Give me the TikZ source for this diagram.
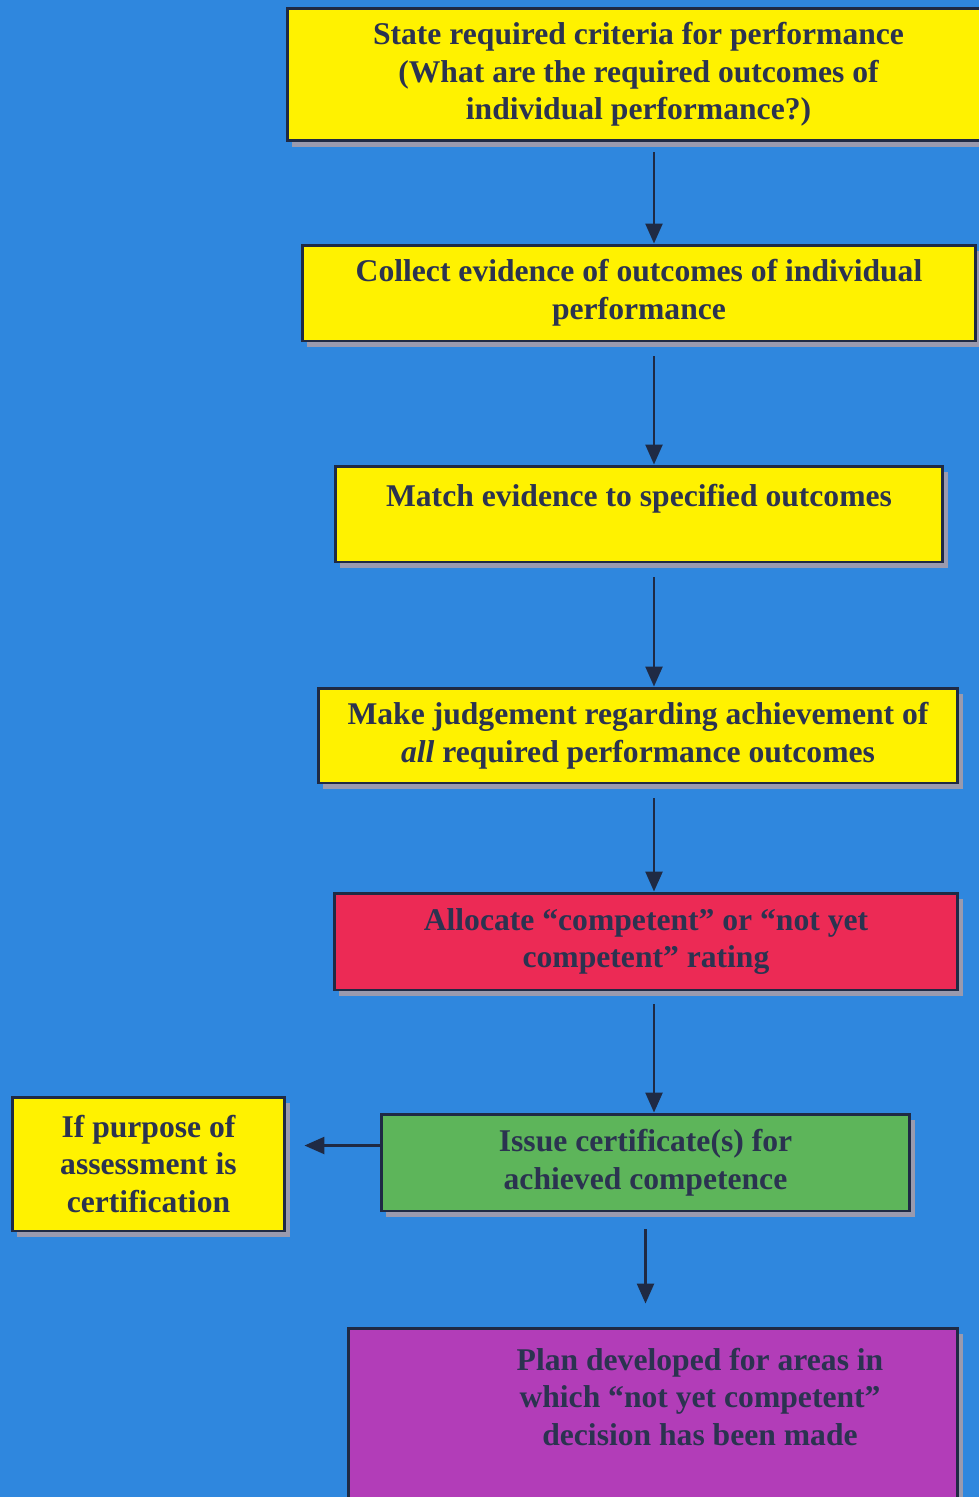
\documentclass[tikz,border=0pt]{standalone}
\usepackage{fontspec}
\setmainfont{Liberation Serif}
\usetikzlibrary{arrows.meta,shadows}
\definecolor{bgblue}{HTML}{2F87DE}
\definecolor{boxline}{HTML}{1F2A44}
\definecolor{txtnavy}{HTML}{2B3350}
\definecolor{shadowgray}{HTML}{9A9AAE}
\definecolor{fillyellow}{HTML}{FFF200}
\definecolor{fillred}{HTML}{EC2A55}
\definecolor{fillgreen}{HTML}{5DB55A}
\definecolor{fillpurple}{HTML}{B23DB8}
\begin{document}
\begin{tikzpicture}[x=0.02cm,y=-0.02cm,>={Triangle[length=0.4cm,width=0.34cm]},
    txt/.style={align=center,inner sep=0pt,text=txtnavy,font=\fontsize{18}{21.4}\selectfont\bfseries},
    box/.style={txt,draw=boxline,line width=1.7pt,
        drop shadow={shadow xshift=0.1cm,shadow yshift=-0.12cm,fill=shadowgray,opacity=1}},
    arr/.style={->,line width=1.4pt,draw=boxline,fill=boxline}]
    \fill[bgblue] (0,0) rectangle (979,1497);
    \useasboundingbox (0,0) rectangle (979,1497);
    \node[box,fill=fillyellow,minimum width=14.06cm,minimum height=2.66cm] (b1) at (638.5,74.5)
        {State required criteria for performance\\(What are the required outcomes of\\individual performance?)};
    \node[box,fill=fillyellow,minimum width=13.48cm,minimum height=1.92cm] (b2) at (639,293)
        {Collect evidence of outcomes of individual\\performance};
    \node[box,fill=fillyellow,minimum width=12.16cm,minimum height=1.92cm] (b3) at (639,514)
        {Match evidence to specified outcomes\\\mbox{}};
    \node[box,fill=fillyellow,minimum width=12.8cm,minimum height=1.9cm] (b4) at (638,735.5)
        {Make judgement regarding achievement of\\{\itshape all} required performance outcomes};
    \node[box,fill=fillred,minimum width=12.48cm,minimum height=1.94cm] (b5) at (646,941.5)
        {Allocate ``competent'' or ``not yet\\competent'' rating};
    \node[box,fill=fillgreen,minimum width=10.58cm,minimum height=1.94cm] (b6) at (645.5,1162.5)
        {Issue certificate(s) for\\achieved competence};
    \node[box,fill=fillyellow,minimum width=5.46cm,minimum height=2.68cm] (b7) at (148.5,1164)
        {If purpose of\\assessment is\\certification};
    \node[box,fill=fillpurple,minimum width=12.2cm,minimum height=3.8cm] (b8) at (653,1423) {};
    \node[txt] (b8text) at (700,1397)
        {Plan developed for areas in\\which ``not yet competent''\\decision has been made};
    % arrows down the middle
    \coordinate (ax) at (654,0);
    \draw[arr,shorten <=0.2cm] (ax |- b1.south) -- (ax |- b2.north);
    \draw[arr,shorten <=0.28cm] (ax |- b2.south) -- (ax |- b3.north);
    \draw[arr,shorten <=0.28cm] (ax |- b3.south) -- (ax |- b4.north);
    \draw[arr,shorten <=0.28cm] (ax |- b4.south) -- (ax |- b5.north);
    \draw[arr,shorten <=0.26cm] (ax |- b5.south) -- (ax |- b6.north);
    \draw[arr,shorten <=0.34cm,shorten >=0.46cm] (b6.south) -- (b8.north -| b6.south);
    \draw[arr,shorten >=0.36cm] ([yshift=0.34cm]b6.west) -- ([yshift=0.34cm]b6.west -| b7.east);
\end{tikzpicture}
\end{document}
